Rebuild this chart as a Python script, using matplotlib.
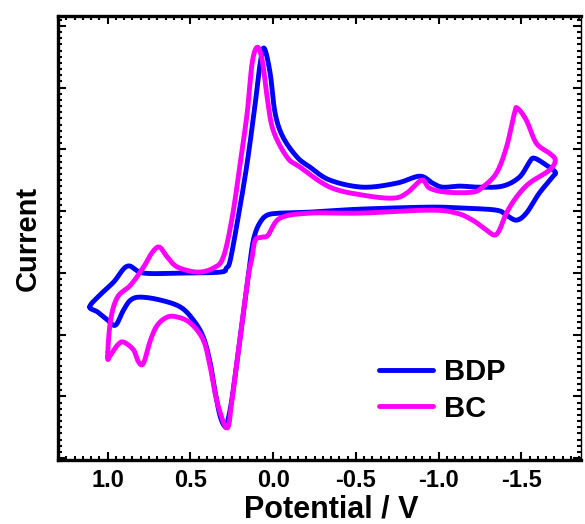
import numpy as np
import matplotlib

matplotlib.use("Agg")
import matplotlib.pyplot as plt
from matplotlib.ticker import MultipleLocator, AutoMinorLocator, NullFormatter

# cyclic voltammograms (potential in V, current in arb. units)
bdp_v = [1.108, 1.060, 0.964, 0.880, 0.783, 0.560, 0.319, 0.283, 0.259, 0.211,
         0.157, 0.108, 0.078, 0.054, 0.018, -0.012, -0.060, -0.145, -0.223, -0.343,
         -0.542, -0.747, -0.886, -0.964, -1.024, -1.127, -1.247, -1.386, -1.488, -1.548,
         -1.578, -1.651, -1.705, -1.687, -1.608, -1.530, -1.470, -1.410, -1.349, -1.145,
         -0.946, -0.524, -0.223, -0.042, 0.036, 0.078, 0.108, 0.127, 0.151, 0.199,
         0.247, 0.277, 0.289, 0.319, 0.349, 0.380, 0.422, 0.482, 0.560, 0.681,
         0.801, 0.861, 0.904, 0.952, 1.000, 1.060, 1.108]
bdp_i = [-1.553, -1.392, -1.149, -0.890, -1.003, -1.003, -0.987, -0.922, -0.793, -0.097,
         0.777, 1.748, 2.395, 2.638, 2.233, 1.586, 1.197, 0.874, 0.712, 0.502,
         0.388, 0.453, 0.566, 0.453, 0.388, 0.405, 0.388, 0.405, 0.550, 0.793,
         0.858, 0.744, 0.631, 0.550, 0.291, -0.032, -0.146, -0.065, 0.016, 0.049,
         0.065, 0.032, -0.016, -0.032, -0.065, -0.178, -0.356, -0.583, -1.068, -2.039,
         -3.010, -3.430, -3.495, -3.333, -2.945, -2.460, -2.039, -1.764, -1.553, -1.440,
         -1.392, -1.440, -1.602, -1.845, -1.764, -1.634, -1.553]

bc_v = [1.000, 0.982, 0.940, 0.861, 0.783, 0.729, 0.687, 0.639, 0.578, 0.458,
        0.361, 0.301, 0.247, 0.199, 0.157, 0.127, 0.096, 0.066, 0.036, 0.000,
        -0.084, -0.163, -0.343, -0.542, -0.723, -0.807, -0.898, -0.946, -1.048, -1.205,
        -1.265, -1.349, -1.410, -1.458, -1.476, -1.530, -1.590, -1.669, -1.705, -1.669,
        -1.548, -1.470, -1.410, -1.367, -1.337, -1.289, -1.205, -1.108, -0.946, -0.524,
        -0.223, -0.042, 0.030, 0.066, 0.108, 0.127, 0.151, 0.199, 0.247, 0.277,
        0.337, 0.380, 0.422, 0.500, 0.578, 0.639, 0.699, 0.741, 0.783, 0.813,
        0.843, 0.904, 0.940, 0.982, 1.000]
bc_i = [-2.362, -1.764, -1.392, -1.197, -0.906, -0.663, -0.583, -0.744, -0.906, -0.987,
        -0.922, -0.744, -0.097, 0.777, 1.586, 2.395, 2.654, 2.443, 1.845, 1.311,
        0.874, 0.712, 0.388, 0.259, 0.210, 0.291, 0.502, 0.372, 0.307, 0.307,
        0.388, 0.615, 1.036, 1.586, 1.667, 1.472, 1.100, 0.939, 0.825, 0.663,
        0.453, 0.227, -0.032, -0.307, -0.388, -0.307, -0.146, -0.032, 0.016, -0.032,
        -0.032, -0.113, -0.388, -0.421, -0.469, -0.744, -1.068, -2.039, -3.010, -3.511,
        -3.107, -2.524, -2.087, -1.812, -1.715, -1.715, -1.845, -2.087, -2.460, -2.443,
        -2.249, -2.120, -2.168, -2.330, -2.362]

x_ticks = [1.0, 0.5, 0.0, -0.5, -1.0, -1.5]
x_ticklabels = ["1.0", "0.5", "0.0", "-0.5", "-1.0", "-1.5"]


def smooth(v, i, n=12):
    """Catmull-Rom through the traced points so the loops look like real traces."""
    p = np.column_stack([v, i])
    p = np.vstack([p[-2], p, p[1]])
    out = []
    for k in range(1, len(p) - 2):
        p0, p1, p2, p3 = p[k - 1], p[k], p[k + 1], p[k + 2]
        for t in np.linspace(0, 1, n, endpoint=False):
            t2, t3 = t * t, t * t * t
            out.append(0.5 * ((2 * p1) + (-p0 + p2) * t
                              + (2 * p0 - 5 * p1 + 4 * p2 - p3) * t2
                              + (-p0 + 3 * p1 - 3 * p2 + p3) * t3))
    out.append(p[-2])
    out = np.array(out)
    return out[:, 0], out[:, 1]


BOLD = dict(family="Liberation Sans", weight="bold")

fig = plt.figure(figsize=(5.85, 5.24), dpi=100)
ax = fig.add_axes([0.0991, 0.1221, 0.894, 0.8474])

for v, i, c, lab in [(bdp_v, bdp_i, "#0000ff", "BDP"), (bc_v, bc_i, "#ff00ff", "BC")]:
    sv, si = smooth(v, i)
    ax.plot(sv, si, color=c, lw=3.5, label=lab, solid_capstyle="round",
            solid_joinstyle="round")

ax.set_xlim(1.3, -1.86)
ax.set_ylim(-4.03, 3.16)
ax.set_xticks(x_ticks)
ax.set_xticklabels(x_ticklabels, fontdict=dict(size=17, **BOLD))
ax.xaxis.set_minor_locator(MultipleLocator(0.05))
ax.yaxis.set_major_locator(MultipleLocator(1))
ax.yaxis.set_minor_locator(AutoMinorLocator(10))
ax.yaxis.set_major_formatter(NullFormatter())

ax.tick_params(which="both", direction="in", top=True, right=True, width=1.5)
ax.tick_params(which="major", length=6, pad=6.5)
ax.tick_params(which="minor", length=3)
for side in ["left", "bottom", "top"]:
    ax.spines[side].set_linewidth(2.4)
ax.spines["right"].set_linewidth(1.0)

ax.set_xlabel("Potential / V", fontsize=22, **BOLD)
ax.xaxis.set_label_coords(0.523, -0.077)
ax.set_ylabel("Current", fontsize=21, **BOLD)
ax.yaxis.set_label_coords(-0.031, 0.5)

ax.legend(loc="lower right", bbox_to_anchor=(0.905, 0.025), frameon=False,
          prop=dict(size=21, **BOLD), handlelength=1.85, handletextpad=0.35,
          labelspacing=0.3)

fig.savefig("out.png", dpi=100)
